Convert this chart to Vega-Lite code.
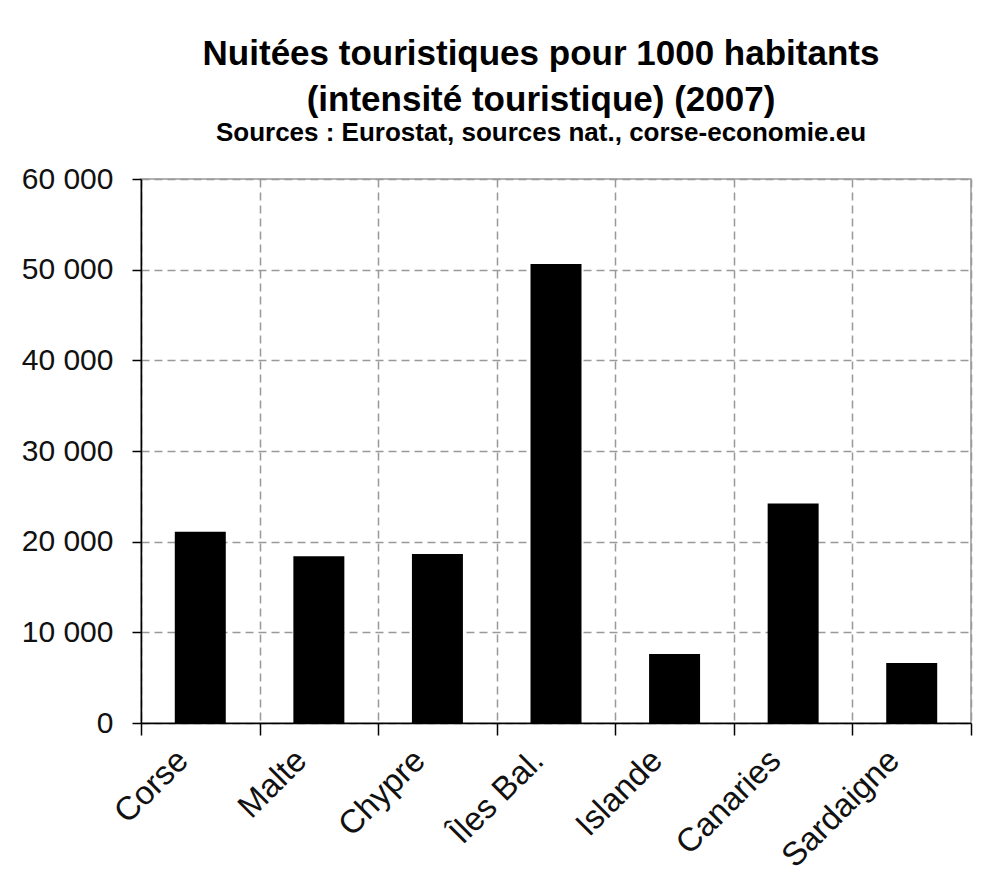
{
  "$schema": "https://vega.github.io/schema/vega-lite/v6.json",
  "autosize": "none",
  "width": 830,
  "height": 544,
  "padding": {"left": 141, "top": 179, "right": 12, "bottom": 156},
  "background": "white",
  "config": {
    "locale": {"number": {"decimal": ",", "thousands": " ", "grouping": [3], "currency": ["", " €"]}},
    "view": {"stroke": "#999999", "strokeWidth": 1.5},
    "font": "Liberation Sans"
  },
  "title": {
    "text": ["Nuitées touristiques pour 1000 habitants", "(intensité touristique) (2007)"],
    "subtitle": "Sources : Eurostat, sources nat., corse-economie.eu",
    "font": "Liberation Sans",
    "fontSize": 35,
    "fontWeight": "bold",
    "lineHeight": 46,
    "color": "black",
    "subtitleFont": "Liberation Sans",
    "subtitleFontSize": 26,
    "subtitleFontWeight": "bold",
    "subtitleColor": "black",
    "subtitlePadding": 2,
    "anchor": "middle",
    "dx": -15,
    "offset": 18
  },
  "data": {
    "values": [
      {"region": "Corse", "nuitees": 21100},
      {"region": "Malte", "nuitees": 18380},
      {"region": "Chypre", "nuitees": 18640},
      {"region": "Îles Bal.", "nuitees": 50630},
      {"region": "Islande", "nuitees": 7610},
      {"region": "Canaries", "nuitees": 24220},
      {"region": "Sardaigne", "nuitees": 6620}
    ]
  },
  "mark": {"type": "bar", "color": "black", "width": {"band": 0.43}},
  "encoding": {
    "x": {
      "field": "region",
      "type": "nominal",
      "sort": null,
      "title": null,
      "scale": {"paddingInner": 0, "paddingOuter": 0},
      "axis": {
        "tickBand": "extent",
        "domainColor": "black",
        "domainWidth": 1.5,
        "tickColor": "black",
        "tickWidth": 1.5,
        "tickSize": 12,
        "grid": true,
        "gridColor": "#999999",
        "gridDash": [8, 5],
        "gridWidth": 1.5,
        "labelAngle": -45,
        "labelAlign": "right",
        "labelBaseline": "middle",
        "labelFont": "Liberation Sans",
        "labelFontSize": 33,
        "labelColor": "#111111",
        "labelPadding": 20,
        "labelOffset": -18
      }
    },
    "y": {
      "field": "nuitees",
      "type": "quantitative",
      "title": null,
      "scale": {"domain": [0, 60000], "nice": false},
      "axis": {
        "values": [0, 10000, 20000, 30000, 40000, 50000, 60000],
        "format": ",d",
        "domainColor": "black",
        "domainWidth": 1.5,
        "tickColor": "black",
        "tickWidth": 1.5,
        "tickSize": 9,
        "grid": true,
        "gridColor": "#999999",
        "gridDash": [8, 5],
        "gridWidth": 1.5,
        "labelFont": "Liberation Sans",
        "labelFontSize": 30,
        "labelColor": "#111111",
        "labelPadding": 19
      }
    }
  }
}
